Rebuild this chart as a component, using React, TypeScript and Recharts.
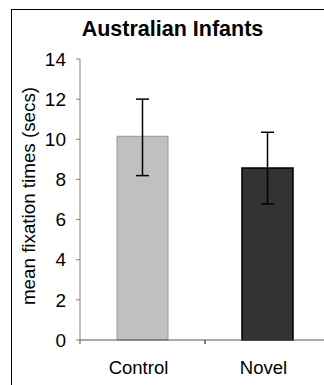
import React from 'react';
import { BarChart, Bar, XAxis, YAxis, ErrorBar, Cell } from 'recharts';

const categories = ['Control', 'Novel'];
const meanValues = [10.15, 8.57];
const errorLow = [1.96, 1.79];
const errorHigh = [1.85, 1.78];
const yTicks = [0, 2, 4, 6, 8, 10, 12, 14];
const barFills = ['#C0C0C0', '#333333'];
const barStrokes = ['#999999', '#000000'];

const data = categories.map((name, i) => ({
  name,
  mean: meanValues[i],
  err: [errorLow[i], errorHigh[i]],
}));

const FONT = '"Liberation Sans", Arial, sans-serif';
const X_TICK_SIZE = 4;
const X_TICK_MARGIN = 17;
const HALF_BAND = 62.5;

function CategoryTick(props: any) {
  const { x, y, payload } = props;
  const axisY = y - X_TICK_MARGIN - X_TICK_SIZE;
  return (
    <g>
      <line x1={x - HALF_BAND} y1={axisY} x2={x - HALF_BAND} y2={axisY + X_TICK_SIZE} stroke="#555" />
      <line x1={x + HALF_BAND} y1={axisY} x2={x + HALF_BAND} y2={axisY + X_TICK_SIZE} stroke="#555" />
      <text x={x - 4} y={y} dy="0.71em" textAnchor="middle" fill="#000" fontSize={18.5} fontFamily={FONT}>
        {payload.value}
      </text>
    </g>
  );
}

export default function App() {
  return (
    <div
      style={{
        position: 'absolute',
        left: 0,
        top: 0,
        width: 324,
        height: 385,
        overflow: 'hidden',
        background: '#fff',
        fontFamily: FONT,
      }}
    >
      <div
        style={{
          position: 'absolute',
          left: 11,
          top: 9,
          width: 400,
          height: 400,
          border: '1px solid #000',
        }}
      />
      <div
        style={{
          position: 'absolute',
          left: 0,
          width: 345,
          top: 16,
          textAlign: 'center',
          fontWeight: 'bold',
          fontSize: 21.5,
          lineHeight: '26px',
          color: '#000',
        }}
      >
        Australian Infants
      </div>
      <svg
        width={60}
        height={385}
        style={{ position: 'absolute', left: 0, top: 0 }}
      >
        <text
          x={28.5}
          y={196}
          transform="rotate(-90, 28.5, 196)"
          textAnchor="middle"
          dominantBaseline="central"
          fontSize={18.8}
          fontFamily={FONT}
          fill="#000"
        >
          mean fixation times (secs)
        </text>
      </svg>
      <div style={{ position: 'absolute', left: 0, top: 0 }}>
        <BarChart
          width={340}
          height={385}
          data={data}
          margin={{ top: 59, right: 10, bottom: 0, left: 0 }}
        >
          <XAxis
            dataKey="name"
            height={45}
            axisLine={{ stroke: '#555' }}
            tickLine={false}
            tickSize={X_TICK_SIZE}
            tickMargin={X_TICK_MARGIN}
            tick={<CategoryTick />}
          />
          <YAxis
            width={80}
            domain={[0, 14]}
            ticks={yTicks}
            interval={0}
            tickSize={4}
            tickMargin={10}
            axisLine={{ stroke: '#808080' }}
            tickLine={{ stroke: '#808080' }}
            tick={{ fill: '#000', fontSize: 19, fontFamily: FONT }}
          />
          <Bar dataKey="mean" barSize={51} isAnimationActive={false}>
            {data.map((d, i) => (
              <Cell key={d.name} fill={barFills[i]} stroke={barStrokes[i]} strokeWidth={i === 0 ? 1 : 1.5} />
            ))}
            <ErrorBar dataKey="err" width={6.5} stroke="#000" strokeWidth={1.5} isAnimationActive={false} />
          </Bar>
        </BarChart>
      </div>
    </div>
  );
}
